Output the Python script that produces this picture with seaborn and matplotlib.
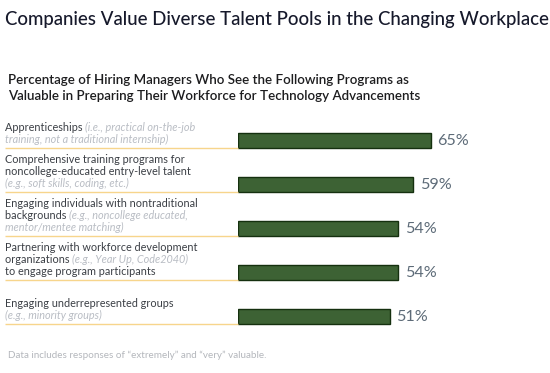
import matplotlib
matplotlib.use("Agg")
import matplotlib.pyplot as plt
import matplotlib.transforms as mtransforms
import seaborn as sns
import pandas as pd

# ---------------- data ----------------
programs = [
    "Apprenticeships",
    "Comprehensive training programs",
    "Engaging individuals with nontraditional backgrounds",
    "Partnering with workforce development organizations",
    "Engaging underrepresented groups",
]
values = [65, 59, 54, 54, 51]
value_labels = ["65%", "59%", "54%", "54%", "51%"]

# each label: list of lines; each line: list of (text, is_note)
label_lines = [
    [[("Apprenticeships ", False), ("(i.e., practical on-the-job", True)],
     [("training, not a traditional internship)", True)]],
    [[("Comprehensive training programs for", False)],
     [("noncollege-educated entry-level talent", False)],
     [("(e.g., soft skills, coding, etc.)", True)]],
    [[("Engaging individuals with nontraditional", False)],
     [("backgrounds ", False), ("(e.g., noncollege educated,", True)],
     [("mentor/mentee matching)", True)]],
    [[("Partnering with workforce development", False)],
     [("organizations ", False), ("(e.g., Year Up, Code2040)", True)],
     [("to engage program participants", False)]],
    [[("Engaging underrepresented groups", False)],
     [("(e.g., minority groups)", True)]],
]

title = "Companies Value Diverse Talent Pools in the Changing Workplace"
subtitle = ("Percentage of Hiring Managers Who See the Following Programs as\n"
            "Valuable in Preparing Their Workforce for Technology Advancements")
footnote = "Data includes responses of \u201cextremely\u201d and \u201cvery\u201d valuable."

# ---------------- style ----------------
W, H = 550, 373
sns.set_theme(style="white")
plt.rcParams['font.family'] = ['Lato', 'DejaVu Sans']

BAR_COLOR = "#3d6234"
BAR_EDGE = "#15300f"
RULE_COLOR = "#f7d58c"
TEXT_COLOR = "#3b3f45"
NOTE_COLOR = "#b9bdc4"
VALUE_COLOR = "#5d6b78"

fig = plt.figure(figsize=(W / 100, H / 100), dpi=100)
fig.patch.set_facecolor("white")

# axes: x from 238px to 550px, rows centred 140.5 .. 316.5 px
ax = fig.add_axes([238 / W, 1 - 338.5 / H, 312 / W, 220 / H])
df = pd.DataFrame({"program": programs, "value": values})
sns.barplot(data=df, x="value", y="program", orient="h", color=BAR_COLOR,
            saturation=1, width=0.34, edgecolor=BAR_EDGE, linewidth=1.0, ax=ax)
ax.set_xlim(0, 105)
ax.set_ylim(len(programs) - 0.5, -0.5)
ax.axis("off")

# value labels
for i, (v, lab) in enumerate(zip(values, value_labels)):
    ax.annotate(lab, xy=(v, i), xytext=(4.5, -0.5), textcoords="offset points",
                ha="left", va="center", fontsize=11.6, color=VALUE_COLOR)

# category labels with mixed styling + rules
renderer = fig.canvas.get_renderer()
blend = mtransforms.blended_transform_factory(fig.transFigure, ax.transData)
half_bar = 0.17
line_step = 12.2  # px
for i, lines in enumerate(label_lines):
    ax.plot([5 / W, 238 / W], [i + half_bar, i + half_bar], transform=blend,
            color=RULE_COLOR, lw=1.0, clip_on=False, solid_capstyle="butt")
    n = len(lines)
    for k, segs in enumerate(lines):
        up_px = 4.5 + (n - 1 - k) * line_step
        tr = blend + mtransforms.ScaledTranslation(0, up_px / 100, fig.dpi_scale_trans)
        x_px = 5.0
        for text, note in segs:
            t = fig.text(x_px / W, i + half_bar, text, transform=tr,
                         ha="left", va="baseline", fontsize=7.8,
                         color=NOTE_COLOR if note else TEXT_COLOR,
                         style="italic" if note else "normal")
            x_px += t.get_window_extent(renderer).width

# titles
fig.text(5 / W, 1 - 20 / H, title, ha="left", va="center", fontsize=13.4,
         color="#16192b", fontweight="medium")
fig.text(8 / W, 1 - 88.5 / H, subtitle, ha="left", va="center", fontsize=9.6,
         color="#1d1d1f", fontweight="semibold", linespacing=1.4)
fig.text(8 / W, 1 - 355 / H, footnote, ha="left", va="center", fontsize=7.1,
         color="#b4b7bc")

fig.savefig("out.png", dpi=100, facecolor="white")
